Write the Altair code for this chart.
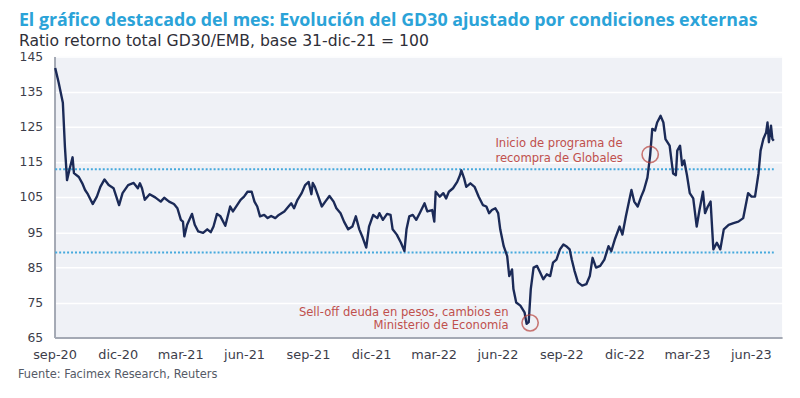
import altair as alt
import pandas as pd

# ---------------- data ----------------
dates = [
    "2020-09-02", "2020-09-07", "2020-09-13", "2020-09-16", "2020-09-19", "2020-09-23", "2020-09-27", "2020-09-29",
    "2020-10-06", "2020-10-11", "2020-10-15", "2020-10-19", "2020-10-26", "2020-11-01", "2020-11-06", "2020-11-12",
    "2020-11-18", "2020-11-25", "2020-12-03", "2020-12-08", "2020-12-16", "2020-12-24", "2020-12-30", "2021-01-02",
    "2021-01-05", "2021-01-09", "2021-01-16", "2021-01-24", "2021-02-01", "2021-02-06", "2021-02-13", "2021-02-20",
    "2021-02-25", "2021-03-02", "2021-03-05", "2021-03-07", "2021-03-11", "2021-03-18", "2021-03-22", "2021-03-27",
    "2021-04-03", "2021-04-09", "2021-04-14", "2021-04-18", "2021-04-23", "2021-04-28", "2021-05-05", "2021-05-12",
    "2021-05-16", "2021-05-22", "2021-05-27", "2021-06-01", "2021-06-06", "2021-06-12", "2021-06-16", "2021-06-20",
    "2021-06-24", "2021-06-30", "2021-07-05", "2021-07-10", "2021-07-16", "2021-07-21", "2021-07-29", "2021-08-04",
    "2021-08-08", "2021-08-12", "2021-08-17", "2021-08-23", "2021-08-28", "2021-09-02", "2021-09-06", "2021-09-08",
    "2021-09-11", "2021-09-16", "2021-09-21", "2021-09-26", "2021-10-02", "2021-10-08", "2021-10-12", "2021-10-18",
    "2021-10-23", "2021-10-29", "2021-11-04", "2021-11-09", "2021-11-14", "2021-11-19", "2021-11-24", "2021-11-28",
    "2021-12-04", "2021-12-10", "2021-12-13", "2021-12-18", "2021-12-24", "2021-12-29", "2022-01-01", "2022-01-07",
    "2022-01-13", "2022-01-18", "2022-01-21", "2022-01-25", "2022-01-30", "2022-02-04", "2022-02-09", "2022-02-16",
    "2022-02-20", "2022-02-27", "2022-03-02", "2022-03-04", "2022-03-10", "2022-03-15", "2022-03-19", "2022-03-23",
    "2022-03-29", "2022-04-04", "2022-04-08", "2022-04-10", "2022-04-14", "2022-04-17", "2022-04-23", "2022-04-29",
    "2022-05-05", "2022-05-11", "2022-05-16", "2022-05-20", "2022-05-24", "2022-05-29", "2022-06-02", "2022-06-05",
    "2022-06-10", "2022-06-15", "2022-06-18", "2022-06-22", "2022-06-24", "2022-06-28", "2022-07-04", "2022-07-10",
    "2022-07-13", "2022-07-16", "2022-07-19", "2022-07-23", "2022-07-28", "2022-08-01", "2022-08-06", "2022-08-11",
    "2022-08-16", "2022-08-20", "2022-08-25", "2022-08-30", "2022-09-04", "2022-09-08", "2022-09-13", "2022-09-16",
    "2022-09-20", "2022-09-25", "2022-10-01", "2022-10-07", "2022-10-12", "2022-10-16", "2022-10-21", "2022-10-27",
    "2022-11-02", "2022-11-08", "2022-11-12", "2022-11-17", "2022-11-24", "2022-11-28", "2022-12-03", "2022-12-08",
    "2022-12-11", "2022-12-15", "2022-12-20", "2022-12-25", "2022-12-29", "2023-01-03", "2023-01-07", "2023-01-10",
    "2023-01-14", "2023-01-17", "2023-01-22", "2023-01-26", "2023-01-29", "2023-02-04", "2023-02-09", "2023-02-13",
    "2023-02-15", "2023-02-19", "2023-02-22", "2023-02-25", "2023-03-01", "2023-03-05", "2023-03-10", "2023-03-15",
    "2023-03-19", "2023-03-24", "2023-03-27", "2023-03-31", "2023-04-04", "2023-04-08", "2023-04-13", "2023-04-18",
    "2023-04-23", "2023-04-30", "2023-05-07", "2023-05-14", "2023-05-21", "2023-05-28", "2023-06-02", "2023-06-07",
    "2023-06-12", "2023-06-15", "2023-06-19", "2023-06-23", "2023-06-25", "2023-06-27", "2023-06-30", "2023-07-02",
    "2023-07-04",
]
ratio = [
    141.7, 137.5, 131.8, 119.2, 109.8, 113.2, 116.3, 111.8,
    110.7, 108.9, 107.0, 105.8, 103.0, 105.1, 107.9, 110.0,
    108.4, 107.5, 102.7, 106.1, 108.4, 109.0, 107.5, 108.9,
    107.5, 104.2, 105.8, 104.9, 103.7, 104.8, 103.7, 103.0,
    101.8, 98.5, 98.0, 93.8, 97.1, 100.2, 97.1, 95.2,
    94.8, 95.8, 95.0, 96.6, 100.2, 99.5, 96.8, 102.3,
    100.9, 102.7, 104.2, 105.1, 106.5, 106.5, 103.7, 102.3,
    99.5, 99.9, 99.0, 99.6, 99.0, 99.9, 100.9, 102.3,
    103.2, 101.8, 104.2, 106.1, 108.4, 109.3, 105.8, 109.0,
    107.9, 105.1, 102.3, 103.7, 105.3, 103.7, 101.8, 100.4,
    98.0, 95.8, 96.6, 99.5, 95.8, 93.4, 90.6, 96.6,
    99.9, 99.0, 100.4, 98.5, 100.2, 99.9, 95.8, 94.3,
    92.0, 89.6, 95.8, 99.5, 99.9, 98.5, 100.4, 103.2,
    100.9, 101.3, 98.0, 106.5, 105.1, 106.1, 104.6, 106.5,
    107.5, 109.3, 111.2, 112.6, 110.3, 107.9, 108.9, 107.9,
    105.1, 102.7, 102.3, 100.4, 101.3, 101.8, 100.4, 95.8,
    91.0, 88.2, 82.5, 84.4, 78.8, 75.0, 74.1, 72.2,
    68.9, 69.4, 78.8, 84.9, 85.4, 83.7, 81.6, 83.0,
    82.5, 86.3, 87.2, 90.1, 91.5, 91.0, 90.1, 87.2,
    84.0, 80.7, 79.8, 80.2, 82.5, 87.7, 84.9, 85.4,
    87.2, 91.0, 89.6, 92.9, 96.6, 94.3, 99.5, 104.2,
    107.0, 103.7, 102.3, 105.1, 107.0, 110.5, 117.0, 124.4,
    123.9, 126.2, 128.1, 126.2, 121.5, 119.6, 111.7, 111.2,
    118.2, 119.6, 114.0, 115.4, 111.2, 106.1, 104.6, 96.6,
    101.3, 106.5, 100.4, 102.3, 103.7, 90.1, 92.0, 90.1,
    95.8, 97.1, 97.6, 98.0, 99.0, 106.1, 105.1, 105.1,
    111.7, 118.2, 121.5, 123.4, 126.2, 120.6, 125.3, 121.5,
    121.0,
]

band_levels = [112.9, 89.2]
y_ticks = [65, 75, 85, 95, 105, 115, 125, 135, 145]
x_ticks = ["2020-09", "2020-12", "2021-03", "2021-06", "2021-09", "2021-12",
           "2022-03", "2022-06", "2022-09", "2022-12", "2023-03", "2023-06"]
x_start, x_end = "2020-09-01", "2023-07-16"

circle_dates = ["2023-01-07", "2022-07-18"]
circle_values = [117.1, 69.2]

note_top_dates = ["2022-05-29", "2022-05-29"]
note_top_values = [120.3, 116.2]
note_top_text = ["Inicio de programa de", "recompra de Globales"]

note_low_dates = ["2022-06-17", "2022-06-17"]
note_low_values = [72.2, 68.5]
note_low_text = ["Sell-off deuda en pesos, cambios en", "Ministerio de Economía"]

title_text = "El gráfico destacado del mes: Evolución del GD30 ajustado por condiciones externas"
subtitle_text = "Ratio retorno total GD30/EMB, base 31-dic-21 = 100"
source_text = "Fuente: Facimex Research, Reuters"

# ---------------- chart ----------------
TFONT = "Open Sans"
FONT = "DejaVu Sans"
W, H = 735, 284
LABEL_COLOR = "#3d3d4a"


def dt(s, day=1):
    return alt.DateTime(year=int(s[0:4]), month=int(s[5:7]), date=day, utc=True)


def dt_full(s):
    return alt.DateTime(year=int(s[0:4]), month=int(s[5:7]), date=int(s[8:10]), utc=True)


x_scale = alt.Scale(type="utc", domain=[dt_full(x_start), dt_full(x_end)])
y_scale = alt.Scale(domain=[65, 145], nice=False, zero=False)

month_expr = ("['ene','feb','mar','abr','may','jun','jul','ago','sep','oct','nov','dic']"
              "[utcmonth(datum.value)] + '-' + utcFormat(datum.value, '%y')")

x_axis = alt.Axis(values=[dt(s) for s in x_ticks], labelExpr=month_expr,
                  ticks=False, grid=False, domainColor="#a4a9b4", domainWidth=2,
                  labelPadding=11, labelFontSize=13, labelColor=LABEL_COLOR,
                  labelFont=FONT, labelFlush=False, labelOverlap=False,
                  labelBound=False, title=None)
y_axis = alt.Axis(values=y_ticks, tickCount=len(y_ticks), ticks=False, grid=True,
                  gridColor="#ffffff", gridWidth=1.5, domainColor="#a4a9b4", domainWidth=2,
                  labelPadding=12, labelFontSize=12.5, labelColor=LABEL_COLOR,
                  labelFont=FONT, labelFlush=False, labelOverlap=False,
                  labelBound=False, title=None)


def xenc(field):
    return alt.X(field, scale=x_scale, axis=x_axis)


def yenc(field):
    return alt.Y(field, scale=y_scale, axis=y_axis)


line_df = pd.DataFrame({"fecha": dates, "ratio": ratio})
line = alt.Chart(line_df).mark_line(color="#1b2a57", strokeWidth=2.4, strokeJoin="round").encode(
    x=xenc("fecha:T"),
    y=yenc("ratio:Q"),
)

band_df = pd.DataFrame({"nivel": band_levels, "desde": [dates[0]] * 2, "hasta": [dates[-1]] * 2})
bands = alt.Chart(band_df).mark_rule(color="#45a9dd", strokeWidth=2, strokeDash=[2, 2]).encode(
    x=xenc("desde:T"),
    x2="hasta:T",
    y=yenc("nivel:Q"),
)

circ_df = pd.DataFrame({"fecha": circle_dates, "valor": circle_values})
circles = alt.Chart(circ_df).mark_point(shape="circle", filled=False, size=270,
                                        stroke="#b8423c", strokeWidth=1.6).encode(
    x=xenc("fecha:T"),
    y=yenc("valor:Q"),
)

top_df = pd.DataFrame({"fecha": note_top_dates, "valor": note_top_values, "txt": note_top_text})
top_notes = alt.Chart(top_df).mark_text(align="left", baseline="middle", font=FONT,
                                        fontSize=11.7, color="#c0504d").encode(
    x=xenc("fecha:T"),
    y=yenc("valor:Q"),
    text="txt:N",
)

low_df = pd.DataFrame({"fecha": note_low_dates, "valor": note_low_values, "txt": note_low_text})
low_notes = alt.Chart(low_df).mark_text(align="right", baseline="middle", font=FONT,
                                        fontSize=11.7, color="#c0504d").encode(
    x=xenc("fecha:T"),
    y=yenc("valor:Q"),
    text="txt:N",
)

src_df = pd.DataFrame({"txt": [source_text]})
source = alt.Chart(src_df).mark_text(align="left", baseline="middle", font=FONT,
                                     fontSize=11.5, color="#555a66").encode(
    x=alt.value(-37),
    y=alt.value(H + 38),
    text="txt:N",
)

chart = alt.layer(bands, line, circles, top_notes, low_notes, source).properties(
    width=W,
    height=H,
    autosize=alt.AutoSizeParams(type="none"),
    padding={"left": 47, "top": 47, "right": 10, "bottom": 50},
    background="#ffffff",
    title=alt.TitleParams(
        text=title_text,
        subtitle=subtitle_text,
        anchor="start",
        frame="group",
        dx=-36,
        offset=2,
        font=TFONT,
        fontSize=18,
        fontWeight="bold",
        color="#2ba3d8",
        subtitleFont=FONT,
        subtitleFontSize=15.8,
        subtitleColor="#2f2f38",
        subtitlePadding=4,
    ),
).configure_view(fill="#eff1f6", strokeWidth=0).configure_axis(labelOverlap=False)

chart.save("out.html", embed_options={"renderer": "svg", "actions": False})
